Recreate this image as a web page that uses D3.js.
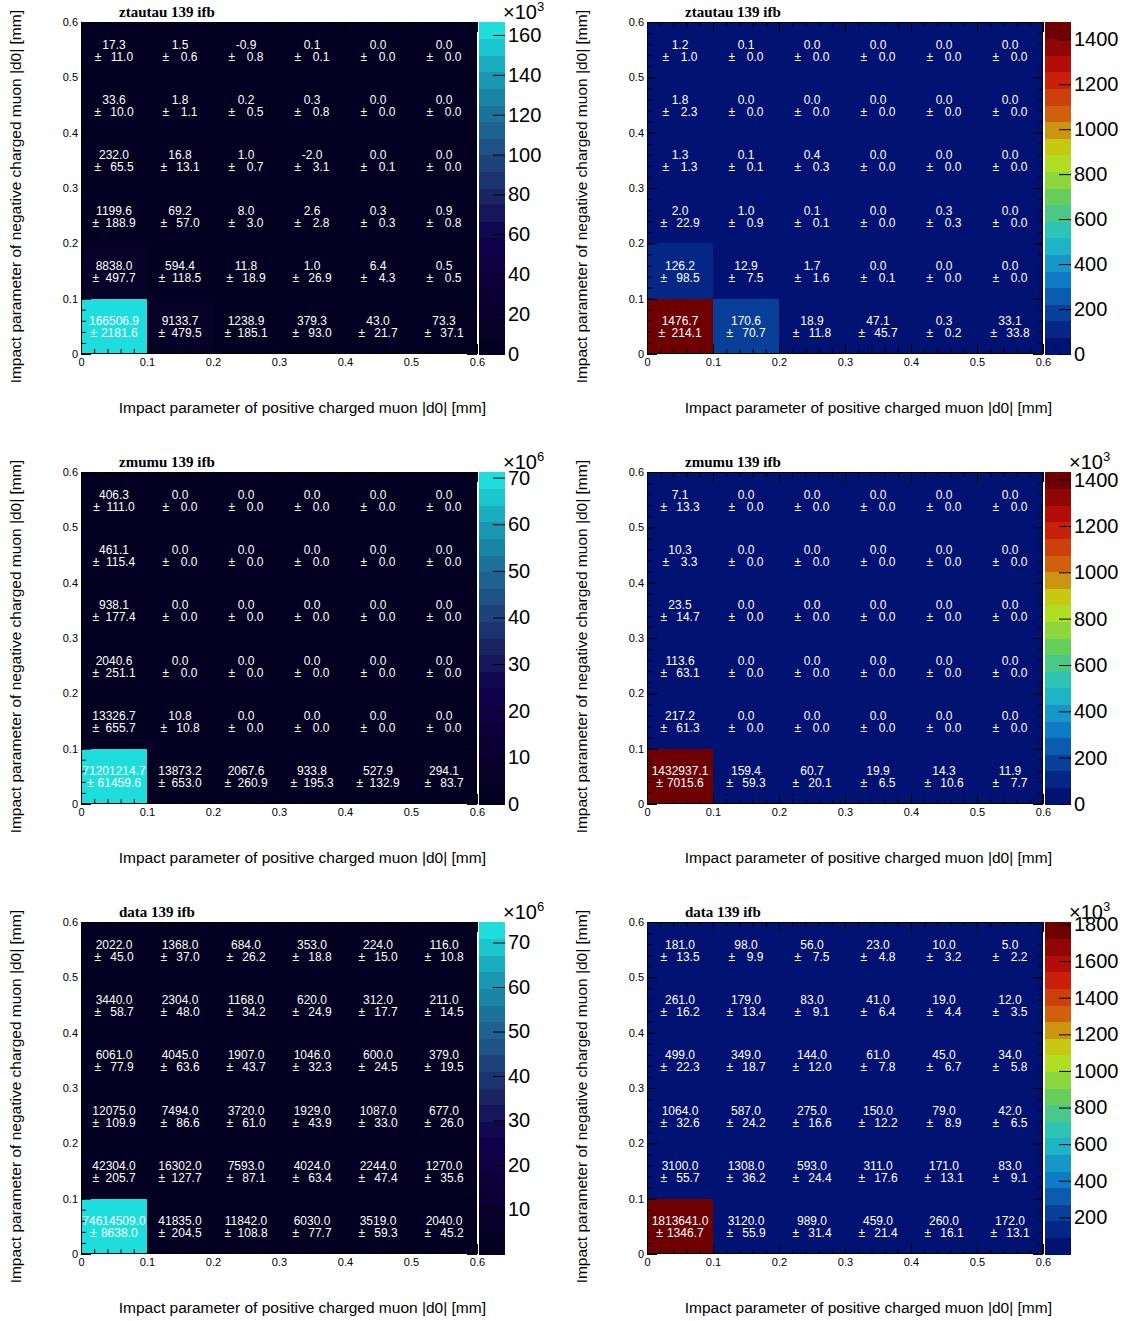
<!DOCTYPE html>
<html>
<head>
<meta charset="utf-8">
<script src="https://cdn.jsdelivr.net/npm/d3@7"></script>
<style>
  body { margin: 0; background: #fff; }
  svg { display: block; font-family: "Liberation Sans", Arial, Helvetica, sans-serif; }
</style>
</head>
<body>
<svg id="chart" width="1128" height="1321"></svg>
<script>
// Bin edges in |d0| [mm], shared by both axes
const binEdges = [0, 0.1, 0.2, 0.3, 0.4, 0.5, 0.6];
const majorTicks = [0, 0.1, 0.2, 0.3, 0.4, 0.5, 0.6];

// Each grid lists rows from the 0.5–0.6 bin (top) down to the 0–0.1 bin (bottom),
// columns from 0–0.1 to 0.5–0.6.
const ztautauAllVal = [
  [17.3, 1.5, -0.9, 0.1, 0.0, 0.0],
  [33.6, 1.8, 0.2, 0.3, 0.0, 0.0],
  [232.0, 16.8, 1.0, -2.0, 0.0, 0.0],
  [1199.6, 69.2, 8.0, 2.6, 0.3, 0.9],
  [8838.0, 594.4, 11.8, 1.0, 6.4, 0.5],
  [166506.9, 9133.7, 1238.9, 379.3, 43.0, 73.3]
];
const ztautauAllErr = [
  [11.0, 0.6, 0.8, 0.1, 0.0, 0.0],
  [10.0, 1.1, 0.5, 0.8, 0.0, 0.0],
  [65.5, 13.1, 0.7, 3.1, 0.1, 0.0],
  [188.9, 57.0, 3.0, 2.8, 0.3, 0.8],
  [497.7, 118.5, 18.9, 26.9, 4.3, 0.5],
  [2181.6, 479.5, 185.1, 93.0, 21.7, 37.1]
];
const ztautauSelVal = [
  [1.2, 0.1, 0.0, 0.0, 0.0, 0.0],
  [1.8, 0.0, 0.0, 0.0, 0.0, 0.0],
  [1.3, 0.1, 0.4, 0.0, 0.0, 0.0],
  [2.0, 1.0, 0.1, 0.0, 0.3, 0.0],
  [126.2, 12.9, 1.7, 0.0, 0.0, 0.0],
  [1476.7, 170.6, 18.9, 47.1, 0.3, 33.1]
];
const ztautauSelErr = [
  [1.0, 0.0, 0.0, 0.0, 0.0, 0.0],
  [2.3, 0.0, 0.0, 0.0, 0.0, 0.0],
  [1.3, 0.1, 0.3, 0.0, 0.0, 0.0],
  [22.9, 0.9, 0.1, 0.0, 0.3, 0.0],
  [98.5, 7.5, 1.6, 0.1, 0.0, 0.0],
  [214.1, 70.7, 11.8, 45.7, 0.2, 33.8]
];
const zmumuAllVal = [
  [406.3, 0.0, 0.0, 0.0, 0.0, 0.0],
  [461.1, 0.0, 0.0, 0.0, 0.0, 0.0],
  [938.1, 0.0, 0.0, 0.0, 0.0, 0.0],
  [2040.6, 0.0, 0.0, 0.0, 0.0, 0.0],
  [13326.7, 10.8, 0.0, 0.0, 0.0, 0.0],
  [71201214.7, 13873.2, 2067.6, 933.8, 527.9, 294.1]
];
const zmumuAllErr = [
  [111.0, 0.0, 0.0, 0.0, 0.0, 0.0],
  [115.4, 0.0, 0.0, 0.0, 0.0, 0.0],
  [177.4, 0.0, 0.0, 0.0, 0.0, 0.0],
  [251.1, 0.0, 0.0, 0.0, 0.0, 0.0],
  [655.7, 10.8, 0.0, 0.0, 0.0, 0.0],
  [61459.6, 653.0, 260.9, 195.3, 132.9, 83.7]
];
const zmumuSelVal = [
  [7.1, 0.0, 0.0, 0.0, 0.0, 0.0],
  [10.3, 0.0, 0.0, 0.0, 0.0, 0.0],
  [23.5, 0.0, 0.0, 0.0, 0.0, 0.0],
  [113.6, 0.0, 0.0, 0.0, 0.0, 0.0],
  [217.2, 0.0, 0.0, 0.0, 0.0, 0.0],
  [1432937.1, 159.4, 60.7, 19.9, 14.3, 11.9]
];
const zmumuSelErr = [
  [13.3, 0.0, 0.0, 0.0, 0.0, 0.0],
  [3.3, 0.0, 0.0, 0.0, 0.0, 0.0],
  [14.7, 0.0, 0.0, 0.0, 0.0, 0.0],
  [63.1, 0.0, 0.0, 0.0, 0.0, 0.0],
  [61.3, 0.0, 0.0, 0.0, 0.0, 0.0],
  [7015.6, 59.3, 20.1, 6.5, 10.6, 7.7]
];
const dataAllVal = [
  [2022.0, 1368.0, 684.0, 353.0, 224.0, 116.0],
  [3440.0, 2304.0, 1168.0, 620.0, 312.0, 211.0],
  [6061.0, 4045.0, 1907.0, 1046.0, 600.0, 379.0],
  [12075.0, 7494.0, 3720.0, 1929.0, 1087.0, 677.0],
  [42304.0, 16302.0, 7593.0, 4024.0, 2244.0, 1270.0],
  [74614509.0, 41835.0, 11842.0, 6030.0, 3519.0, 2040.0]
];
const dataAllErr = [
  [45.0, 37.0, 26.2, 18.8, 15.0, 10.8],
  [58.7, 48.0, 34.2, 24.9, 17.7, 14.5],
  [77.9, 63.6, 43.7, 32.3, 24.5, 19.5],
  [109.9, 86.6, 61.0, 43.9, 33.0, 26.0],
  [205.7, 127.7, 87.1, 63.4, 47.4, 35.6],
  [8638.0, 204.5, 108.8, 77.7, 59.3, 45.2]
];
const dataSelVal = [
  [181.0, 98.0, 56.0, 23.0, 10.0, 5.0],
  [261.0, 179.0, 83.0, 41.0, 19.0, 12.0],
  [499.0, 349.0, 144.0, 61.0, 45.0, 34.0],
  [1064.0, 587.0, 275.0, 150.0, 79.0, 42.0],
  [3100.0, 1308.0, 593.0, 311.0, 171.0, 83.0],
  [1813641.0, 3120.0, 989.0, 459.0, 260.0, 172.0]
];
const dataSelErr = [
  [13.5, 9.9, 7.5, 4.8, 3.2, 2.2],
  [16.2, 13.4, 9.1, 6.4, 4.4, 3.5],
  [22.3, 18.7, 12.0, 7.8, 6.7, 5.8],
  [32.6, 24.2, 16.6, 12.2, 8.9, 6.5],
  [55.7, 36.2, 24.4, 17.6, 13.1, 9.1],
  [1346.7, 55.9, 31.4, 21.4, 16.1, 13.1]
];

// Colour-axis tick labels (in units of the axis multiplier)
const ztautauAllTicks = [0, 20, 40, 60, 80, 100, 120, 140, 160];
const ztautauSelTicks = [0, 200, 400, 600, 800, 1000, 1200, 1400];
const zmumuAllTicks = [0, 10, 20, 30, 40, 50, 60, 70];
const zmumuSelTicks = [0, 200, 400, 600, 800, 1000, 1200, 1400];
const dataAllTicks = [10, 20, 30, 40, 50, 60, 70];
const dataSelTicks = [200, 400, 600, 800, 1000, 1200, 1400, 1600, 1800];

const titles = ["ztautau 139 ifb", "zmumu 139 ifb", "data 139 ifb"];
const xTitle = "Impact parameter of positive charged muon |d0| [mm]";
const yTitle = "Impact parameter of negative charged muon |d0| [mm]";

// Palette stops (9 evenly spaced)
const deepSea = {
  r: [0, 9, 13, 17, 24, 32, 27, 25, 29],
  g: [0, 0, 0, 2, 37, 74, 113, 160, 221],
  b: [28, 42, 59, 78, 98, 129, 154, 184, 221]
};
const rainBow = {
  r: [0, 5, 15, 35, 102, 196, 208, 199, 110],
  g: [0, 48, 124, 192, 206, 226, 97, 16, 0],
  b: [99, 142, 198, 201, 90, 22, 13, 8, 2]
};

const panels = [
  { title: titles[0], val: ztautauAllVal, err: ztautauAllErr, mult: 1e3, exp: "3", ticks: ztautauAllTicks, pal: deepSea, col: 0, row: 0 },
  { title: titles[0], val: ztautauSelVal, err: ztautauSelErr, mult: 1, exp: null, ticks: ztautauSelTicks, pal: rainBow, col: 1, row: 0 },
  { title: titles[1], val: zmumuAllVal, err: zmumuAllErr, mult: 1e6, exp: "6", ticks: zmumuAllTicks, pal: deepSea, col: 0, row: 1 },
  { title: titles[1], val: zmumuSelVal, err: zmumuSelErr, mult: 1e3, exp: "3", ticks: zmumuSelTicks, pal: rainBow, col: 1, row: 1 },
  { title: titles[2], val: dataAllVal, err: dataAllErr, mult: 1e6, exp: "6", ticks: dataAllTicks, pal: deepSea, col: 0, row: 2 },
  { title: titles[2], val: dataSelVal, err: dataSelErr, mult: 1e3, exp: "3", ticks: dataSelTicks, pal: rainBow, col: 1, row: 2 }
];

const NCONT = 20;
const colLeft = [81, 647];
const rowTop = [22, 472, 922];
const W = 396, H = 332;
const SANS = '"Liberation Sans", Arial, Helvetica, sans-serif';
const SERIF = '"Liberation Serif", "Times New Roman", serif';

function paletteColor(pal, f) {
  f = Math.max(0, Math.min(1, f));
  const p = f * 8;
  const i = Math.min(7, Math.floor(p));
  const t = p - i;
  const c = k => Math.round(pal[k][i] + (pal[k][i + 1] - pal[k][i]) * t);
  return d3.rgb(c("r"), c("g"), c("b")).formatHex();
}
// colour of contour band i (ROOT-style sampling of a 255-colour table)
function bandColor(pal, i) {
  const k = Math.floor((i + 0.99) * 255 / NCONT);
  return paletteColor(pal, k / 254);
}

const svg = d3.select("#chart");
const fmtTick = d => d === 0 ? "0" : d.toFixed(1);
const minorTicks = d3.range(0, 31).map(i => +(i * 0.02).toFixed(2));

panels.forEach(p => {
  const left = colLeft[p.col], top = rowTop[p.row];
  const x = d3.scaleLinear().domain([0, 0.6]).range([left, left + W]);
  const y = d3.scaleLinear().domain([0, 0.6]).range([top + H, top]);
  const flat = p.val.flat();
  const vmin = d3.min(flat), vmax = d3.max(flat);
  const band = v => Math.max(0, Math.min(NCONT - 1, Math.floor((v - vmin) / (vmax - vmin) * NCONT)));

  const g = svg.append("g");

  // cells
  const cells = [];
  p.val.forEach((rowVals, r) => {
    const yb = binEdges.length - 2 - r;
    rowVals.forEach((v, c) => cells.push({ v, e: p.err[r][c], c, yb }));
  });
  g.selectAll("rect.cell").data(cells).join("rect")
    .attr("class", "cell")
    .attr("x", d => x(binEdges[d.c]))
    .attr("y", d => y(binEdges[d.yb + 1]))
    .attr("width", d => x(binEdges[d.c + 1]) - x(binEdges[d.c]))
    .attr("height", d => y(binEdges[d.yb]) - y(binEdges[d.yb + 1]))
    .attr("fill", d => bandColor(p.pal, band(d.v)))
    .attr("shape-rendering", "crispEdges");

  // axes with ticks on all four sides
  const axG = g.append("g");
  const mk = (axis, tx, ty, labels) => {
    const a = axG.append("g").attr("transform", `translate(${tx},${ty})`).call(axis);
    a.select(".domain").remove();
    a.selectAll(".tick line").attr("stroke", "#000");
    a.selectAll("text").attr("fill", "#000").style("font-family", SANS).style("font-size", "11px");
    if (!labels) a.selectAll("text").remove();
    return a;
  };
  mk(d3.axisBottom(x).tickValues(majorTicks).tickFormat(fmtTick).tickSizeInner(-10).tickSizeOuter(0).tickPadding(4), 0, top + H, true);
  mk(d3.axisBottom(x).tickValues(minorTicks).tickFormat("").tickSizeInner(-5).tickSizeOuter(0), 0, top + H, false);
  mk(d3.axisTop(x).tickValues(majorTicks).tickSizeInner(-10).tickSizeOuter(0), 0, top, false);
  mk(d3.axisTop(x).tickValues(minorTicks).tickSizeInner(-5).tickSizeOuter(0), 0, top, false);
  mk(d3.axisLeft(y).tickValues(majorTicks).tickFormat(fmtTick).tickSizeInner(-10).tickSizeOuter(0).tickPadding(3), left, 0, true);
  mk(d3.axisLeft(y).tickValues(minorTicks).tickFormat("").tickSizeInner(-5).tickSizeOuter(0), left, 0, false);
  mk(d3.axisRight(y).tickValues(majorTicks).tickSizeInner(-10).tickSizeOuter(0), left + W, 0, false);
  mk(d3.axisRight(y).tickValues(minorTicks).tickSizeInner(-5).tickSizeOuter(0), left + W, 0, false);

  // frame
  g.append("rect").attr("x", left + 0.5).attr("y", top + 0.5).attr("width", W - 1).attr("height", H - 1)
    .attr("fill", "none").attr("stroke", "#000").attr("stroke-width", 1);

  // cell texts
  const tg = g.append("g").attr("fill", "#fff").style("font-size", "12px").style("font-family", SANS)
    .attr("text-anchor", "middle");
  cells.forEach(d => {
    const cx = (x(binEdges[d.c]) + x(binEdges[d.c + 1])) / 2;
    const cy = (y(binEdges[d.yb]) + y(binEdges[d.yb + 1])) / 2;
    tg.append("text").attr("x", cx).attr("y", cy - 1).text(d.v.toFixed(1));
    const es = d.e.toFixed(1);
    const t = tg.append("text").attr("x", cx).attr("y", cy + 11);
    t.append("tspan").text("\u00b1");
    t.append("tspan").attr("dx", 4 + Math.max(0, 6 - es.length) * 2.6).text(es);
  });

  // colour bar
  const cbX = left + W + 2, cbW = 26;
  const cs = d3.scaleLinear().domain([vmin / p.mult, vmax / p.mult]).range([top + H, top]);
  const bands = d3.range(NCONT);
  g.append("g").selectAll("rect").data(bands).join("rect")
    .attr("x", cbX)
    .attr("width", cbW)
    .attr("y", i => top + H - (i + 1) * H / NCONT)
    .attr("height", H / NCONT + 0.5)
    .attr("fill", i => bandColor(p.pal, i))
    .attr("shape-rendering", "crispEdges");
  const ca = g.append("g").attr("transform", `translate(${cbX + cbW},0)`)
    .call(d3.axisRight(cs).tickValues(p.ticks).tickFormat(d3.format("d")).tickSizeInner(-12).tickSizeOuter(0).tickPadding(3));
  ca.select(".domain").remove();
  ca.selectAll(".tick line").attr("stroke", "#000");
  ca.selectAll("text").attr("fill", "#000").style("font-size", "20px").style("font-family", SANS);
  if (p.exp) {
    const et = g.append("text").attr("x", cbX + cbW - 2).attr("y", top - 3)
      .style("font-size", "20px").style("font-family", SANS).attr("fill", "#000");
    et.append("tspan").text("\u00d710");
    et.append("tspan").style("font-size", "13px").attr("dy", -8).text(p.exp);
  }

  // titles
  g.append("text").attr("x", left + 38).attr("y", top - 5)
    .style("font-family", SERIF).style("font-weight", "bold").style("font-size", "15px")
    .attr("fill", "#000").text(p.title);
  g.append("text").attr("x", left + W + 9).attr("y", top + H + 59)
    .attr("text-anchor", "end").style("font-size", "15.5px").style("font-family", SANS)
    .attr("fill", "#000").text(xTitle);
  g.append("text").attr("transform", `translate(${left - 60},${top - 12}) rotate(-90)`)
    .attr("text-anchor", "end").style("font-size", "15.5px").style("font-family", SANS)
    .attr("fill", "#000").text(yTitle);
});
</script>
</body>
</html>
